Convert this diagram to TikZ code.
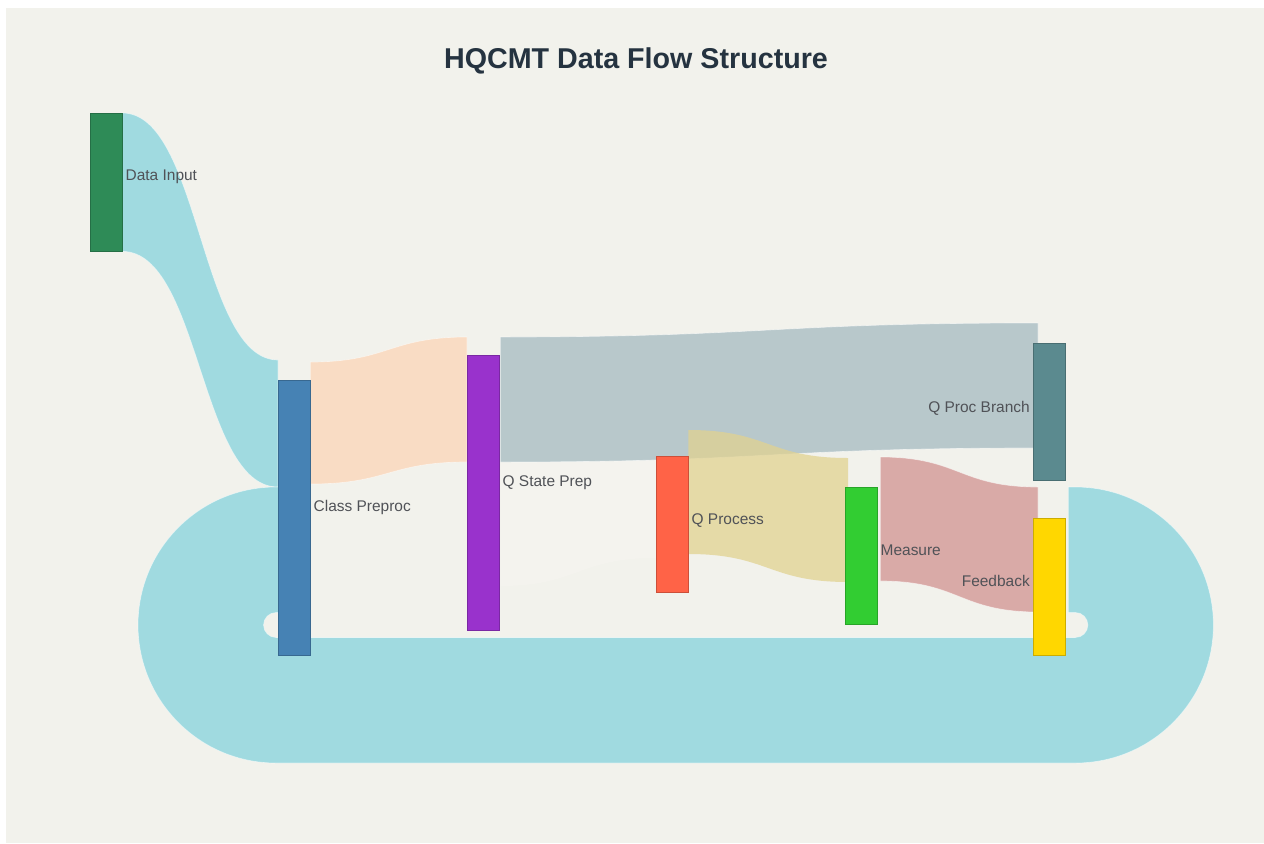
\documentclass[tikz,border=0pt]{standalone}
\usepackage{fontspec}
\setmainfont{Liberation Sans}
\usetikzlibrary{calc}
\pgfdeclarelayer{back}
\pgfdeclarelayer{flows}
\pgfsetlayers{back,flows,main}

\definecolor{paper}{HTML}{F2F2EC}
\definecolor{titleink}{HTML}{253340}
\definecolor{labelink}{HTML}{505257}
% node colours
\definecolor{cDI}{HTML}{2E8B57}
\definecolor{cCP}{HTML}{4682B4}
\definecolor{cQS}{HTML}{9932CC}
\definecolor{cQP}{HTML}{FF6347}
\definecolor{cME}{HTML}{32CD32}
\definecolor{cQB}{HTML}{5B8A8F}
\definecolor{cFB}{HTML}{FFD700}
% flow colours
\definecolor{fCyan}{HTML}{A0DAE0}
\definecolor{fPeach}{HTML}{F9DCC4}
\definecolor{fGrey}{HTML}{B8C8CB}
\definecolor{fFaint}{HTML}{F4F3EE}
\definecolor{fTan}{HTML}{E1D291}
\definecolor{fPink}{HTML}{D9AAA7}

\begin{document}
\begin{tikzpicture}[x=0.75pt,y=-0.75pt,
  bar/.style={rectangle,inner sep=0pt,minimum width=24pt,anchor=north west,
              fill=#1,draw=#1!80!black,line width=0.3pt},
  lbl/.style={font=\fontsize{11.6}{13}\selectfont,text=labelink,inner sep=0pt},
  flow/.style={fill=#1,draw=white,draw opacity=0.5,line width=0.5pt}]

% page
\begin{pgfonlayer}{back}
  \fill[white] (0,0) rectangle (1264,843);
  \fill[paper] (6,8) rectangle (1264,843);
\end{pgfonlayer}
\useasboundingbox (0,0) rectangle (1264,843);

% title
\node[font=\fontsize{21.5}{26}\selectfont\bfseries,text=titleink] (title) at (636,61) {HQCMT Data Flow Structure};

% stage bars
\node[bar=cDI,minimum height=103.5pt]  (di) at (90,113) {};
\node[bar=cCP,minimum height=206.25pt] (cp) at (278,380) {};
\node[bar=cQS,minimum height=206.25pt] (qs) at (467,355) {};
\node[bar=cQP,minimum height=102pt]    (qp) at (656,456) {};
\node[bar=cME,minimum height=102.75pt] (me) at (845,487) {};
\node[bar=cQB,minimum height=102.75pt] (qb) at (1033,343) {};
\node[bar=cFB,minimum height=102.75pt] (fb) at (1033,518) {};

% stage labels
\node[lbl,anchor=west] (tdi) at ($(di.east)+(3,-5)$)  {Data Input};
\node[lbl,anchor=west] (tcp) at ($(cp.east)+(3,-10)$) {Class Preproc};
\node[lbl,anchor=west] (tqs) at ($(qs.east)+(3,-10)$) {Q State Prep};
\node[lbl,anchor=west] (tqp) at ($(qp.east)+(3,-4)$)  {Q Process};
\node[lbl,anchor=west] (tme) at ($(me.east)+(3,-5)$)  {Measure};
\node[lbl,anchor=east] (tqb) at ($(qb.west)+(-3,-3)$) {Q Proc Branch};
\node[lbl,anchor=east] (tfb) at ($(fb.west)+(-3,-6)$) {Feedback};

\begin{pgfonlayer}{flows}
  % Data Input -> Class Preproc
  \path[flow=fCyan] (di.north east)
      .. controls +(78,0) and +(-78,0) .. ($(cp.north west)+(0,-20)$)
      -- ($(cp.north west)+(0,107)$)
      .. controls +(-78,0) and +(78,0) .. (di.south east) -- cycle;

  % Feedback -> Class Preproc (return loop under the chain)
  \path[flow=fCyan] ($(fb.north east)+(3,-31)$) -- ++(7,0)
      arc[start angle=270,end angle=450,radius=138]
      -- ($(cp.north west)+(-2,383)$)
      arc[start angle=90,end angle=270,radius=138]
      -- ($(cp.north west)+(2,107)$) -- ++(0,125.5) -- ++(-4,0)
      arc[start angle=270,end angle=90,radius=12.5]
      -- ($(fb.north east)+(10,119.5)$)
      arc[start angle=90,end angle=-90,radius=12.5]
      -- ($(fb.north east)+(3,94.5)$) -- cycle;

  % Class Preproc -> Q State Prep
  \path[flow=fPeach] ($(cp.north east)+(0,-18)$)
      .. controls +(78,0) and +(-78,0) .. ($(qs.north west)+(0,-18)$)
      -- ($(qs.north west)+(0,107)$)
      .. controls +(-78,0) and +(78,0) .. ($(cp.north east)+(0,104)$) -- cycle;

  % Q State Prep -> Q Process (barely tinted)
  \path[flow=fFaint,draw=none] ($(qs.north east)+(1,107)$)
      .. controls +(78,0) and +(-78,0) .. ($(qp.north west)+(0,-19)$)
      -- ($(qp.north west)+(0,102)$)
      .. controls +(-78,0) and +(78,0) .. ($(qs.north east)+(1,231)$) -- cycle;

  % Q State Prep -> Q Proc Branch
  \path[flow=fGrey] ($(qs.north east)+(1,-18)$)
      .. controls +(270,0) and +(-270,0) .. ($(qb.north west)+(5,-20)$)
      -- ($(qb.north west)+(5,105)$)
      .. controls +(-270,0) and +(270,0) .. ($(qs.north east)+(1,107)$) -- cycle;

  % Q Process -> Measure
  \path[flow=fTan,fill opacity=0.75,draw=none] ($(qp.north east)+(0,-26)$)
      .. controls +(80,0) and +(-80,0) .. ($(me.north west)+(3,-29)$)
      -- ($(me.north west)+(3,95)$)
      .. controls +(-80,0) and +(80,0) .. ($(qp.north east)+(0,98)$) -- cycle;

  % Measure -> Feedback
  \path[flow=fPink] ($(me.north east)+(3,-30)$)
      .. controls +(79,0) and +(-79,0) .. ($(fb.north west)+(5,-31)$)
      -- ($(fb.north west)+(5,94)$)
      .. controls +(-79,0) and +(79,0) .. ($(me.north east)+(3,94)$) -- cycle;
\end{pgfonlayer}
\end{tikzpicture}
\end{document}
